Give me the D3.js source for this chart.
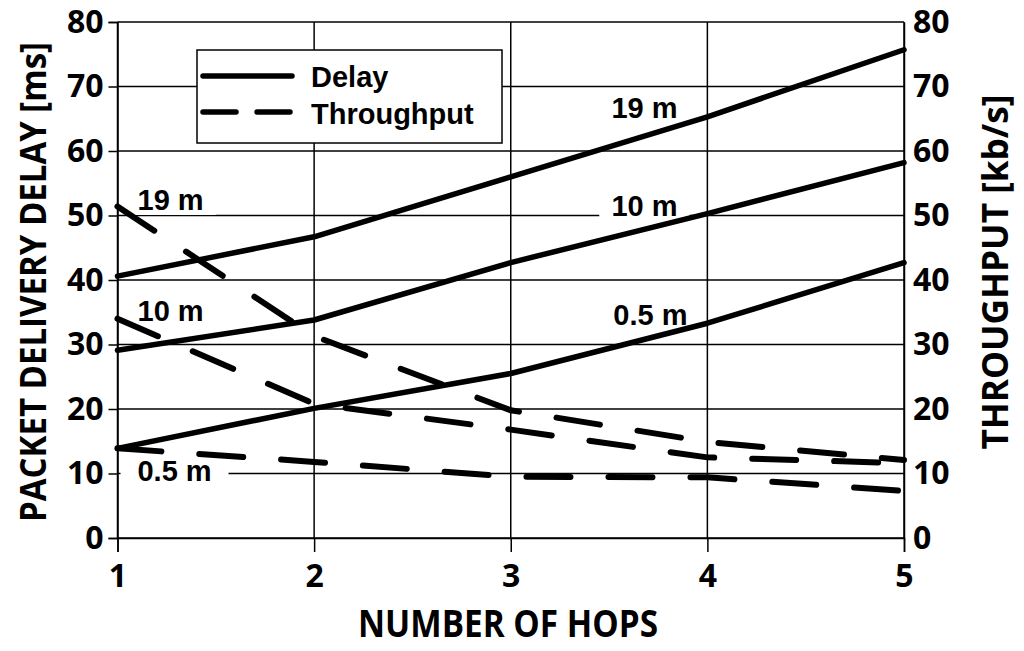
<!DOCTYPE html>
<html>
<head>
<meta charset="utf-8">
<script src="https://cdn.jsdelivr.net/npm/d3@7"></script>
<style>
  body { margin: 0; background: #fff; }
  svg { display: block; }
</style>
</head>
<body>
<div id="chart"></div>
<script>
(function() {
  var width = 1024, height = 651;
  var margin = { top: 22, left: 117.5, right: 120, bottom: 113 };

  // data
  var hops = [1, 2, 3, 4, 5];
  var delay19 = [40.6, 46.7, 56.0, 65.3, 75.7];
  var delay10 = [29.1, 33.8, 42.7, 50.3, 58.2];
  var delay05 = [13.9, 20.1, 25.5, 33.3, 42.7];
  var thr19 = [51.4, 31.3, 19.8, 14.9, 12.1];
  var thr10 = [34.0, 20.8, 16.8, 12.5, 11.6];
  var thr05 = [13.9, 11.8, 9.5, 9.4, 7.3];
  var yTicks = [0, 10, 20, 30, 40, 50, 60, 70, 80];

  var delaySeries = [delay19, delay10, delay05];
  var thrSeries = [thr19, thr10, thr05];

  // annotation labels: [text, hop, value]
  var labels = [
    ["19 m", 3.68, 66.7],
    ["10 m", 3.68, 51.6],
    ["0.5 m", 3.71, 34.7],
    ["19 m", 1.27, 52.4],
    ["10 m", 1.27, 35.2],
    ["0.5 m", 1.29, 10.4]
  ];

  var w = 904 - margin.left, h = 538 - margin.top;

  var svg = d3.select("#chart").append("svg")
    .attr("width", width)
    .attr("height", height);

  var g = svg.append("g")
    .attr("transform", "translate(" + margin.left + "," + margin.top + ")");

  var x = d3.scaleLinear().domain([1, 5]).range([0, w]);
  var yL = d3.scaleLinear().domain([0, 80]).range([h, 0]);
  var yR = d3.scaleLinear().domain([0, 80]).range([h, 0]);

  var numFont = "'Open Sans', sans-serif";
  var arial = "'Liberation Sans', Arial, sans-serif";

  // grid
  g.append("g").selectAll("line").data(yTicks).enter().append("line")
    .attr("x1", 0).attr("x2", w)
    .attr("y1", function(d) { return yL(d); })
    .attr("y2", function(d) { return yL(d); })
    .attr("stroke", "#000").attr("stroke-width", 1.5);
  g.append("g").selectAll("line").data(hops).enter().append("line")
    .attr("x1", function(d) { return x(d); })
    .attr("x2", function(d) { return x(d); })
    .attr("y1", 0).attr("y2", h)
    .attr("stroke", "#000").attr("stroke-width", 1.5);

  // axes
  var leftAxis = g.append("g")
    .call(d3.axisLeft(yL).tickValues(yTicks).tickSize(9).tickPadding(5));
  var bottomAxis = g.append("g")
    .attr("transform", "translate(0," + h + ")")
    .call(d3.axisBottom(x).tickValues(hops).tickSize(14).tickPadding(12).tickFormat(d3.format("d")));
  var rightAxis = g.append("g")
    .attr("transform", "translate(" + w + ",0)")
    .call(d3.axisRight(yR).tickValues(yTicks).tickSize(0).tickPadding(9));

  [leftAxis, bottomAxis, rightAxis].forEach(function(a) {
    a.select(".domain").attr("stroke", "#000").attr("stroke-width", 1.5);
    a.selectAll(".tick line").attr("stroke", "#000").attr("stroke-width", 1.5);
    a.selectAll("text")
      .style("font-family", numFont)
      .style("font-weight", "bold")
      .style("font-size", "32px")
      .attr("fill", "#000");
  });

  // annotation labels with white boxes (over grid, under the lines)
  var lab = g.append("g").selectAll("g").data(labels).enter().append("g")
    .attr("transform", function(d) { return "translate(" + x(d[1]) + "," + yL(d[2]) + ")"; });
  lab.append("rect")
    .attr("x", function(d) { return -(d[0].length * 8.8 + 10); })
    .attr("y", -15)
    .attr("width", function(d) { return 2 * (d[0].length * 8.8 + 10); })
    .attr("height", 30)
    .attr("fill", "#fff");
  lab.append("text")
    .attr("text-anchor", "middle")
    .attr("dy", "0.36em")
    .style("font-family", arial)
    .style("font-weight", "bold")
    .style("font-size", "29px")
    .text(function(d) { return d[0]; });

  var lineL = d3.line()
    .x(function(d, i) { return x(hops[i]); })
    .y(function(d) { return yL(d); });
  var lineR = d3.line()
    .x(function(d, i) { return x(hops[i]); })
    .y(function(d) { return yR(d); });

  g.append("g").selectAll("path").data(thrSeries).enter().append("path")
    .attr("d", lineR)
    .attr("fill", "none")
    .attr("stroke", "#000")
    .attr("stroke-width", 6)
    .attr("stroke-linecap", "round")
    .attr("stroke-dasharray", "44,38");

  g.append("g").selectAll("path").data(delaySeries).enter().append("path")
    .attr("d", lineL)
    .attr("fill", "none")
    .attr("stroke", "#000")
    .attr("stroke-width", 5.5)
    .attr("stroke-linecap", "round")
    .attr("stroke-linejoin", "round");

  // legend
  var leg = svg.append("g");
  leg.append("rect")
    .attr("x", 197).attr("y", 50).attr("width", 305).attr("height", 93)
    .attr("fill", "#fff").attr("stroke", "#000").attr("stroke-width", 1.5);
  leg.append("line")
    .attr("x1", 203).attr("x2", 292).attr("y1", 76).attr("y2", 76)
    .attr("stroke", "#000").attr("stroke-width", 5.5).attr("stroke-linecap", "round");
  leg.append("line")
    .attr("x1", 203).attr("x2", 292).attr("y1", 112).attr("y2", 112)
    .attr("stroke", "#000").attr("stroke-width", 5.5).attr("stroke-linecap", "round")
    .attr("stroke-dasharray", "33,21");
  leg.selectAll("text.lg").data(["Delay", "Throughput"]).enter().append("text")
    .attr("x", 311)
    .attr("y", function(d, i) { return i === 0 ? 87 : 124; })
    .style("font-family", arial)
    .style("font-weight", "bold")
    .style("font-size", "29px")
    .text(function(d) { return d; });

  // axis titles
  svg.append("text")
    .attr("x", 508).attr("y", 637)
    .attr("text-anchor", "middle")
    .attr("textLength", 300).attr("lengthAdjust", "spacingAndGlyphs")
    .style("font-family", numFont).style("font-weight", "bold").style("font-size", "38px")
    .text("NUMBER OF HOPS");

  svg.append("text")
    .attr("transform", "translate(46,282) rotate(-90)")
    .attr("text-anchor", "middle")
    .attr("textLength", 480).attr("lengthAdjust", "spacingAndGlyphs")
    .style("font-family", numFont).style("font-weight", "bold").style("font-size", "35px")
    .text("PACKET DELIVERY DELAY  [ms]");

  svg.append("text")
    .attr("transform", "translate(1008,272) rotate(-90)")
    .attr("text-anchor", "middle")
    .attr("textLength", 355).attr("lengthAdjust", "spacingAndGlyphs")
    .style("font-family", numFont).style("font-weight", "bold").style("font-size", "36px")
    .text("THROUGHPUT  [kb/s]");
})();
</script>
</body>
</html>
